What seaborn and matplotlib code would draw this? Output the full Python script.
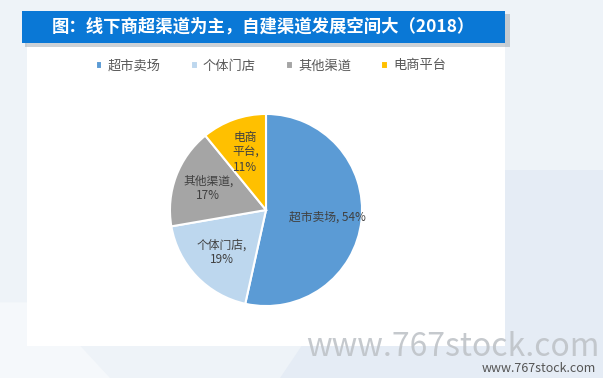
import matplotlib.pyplot as plt
import seaborn as sns
from matplotlib.patches import Rectangle, Polygon

# 数据
categories = ['超市卖场', '个体门店', '其他渠道', '电商平台']
shares = [54, 19, 17, 11]
slice_labels = ['超市卖场, 54%', '个体门店,\n19%', '其他渠道,\n17%', '电商\n平台,\n11%']
colors = ['#5B9BD5', '#BDD7EE', '#A5A5A5', '#FFC000']
title = '图：线下商超渠道为主，自建渠道发展空间大（2018）'

sns.set_theme(style='white')
plt.rcParams['font.family'] = ['Noto Sans CJK SC', 'DejaVu Sans']

fig = plt.figure(figsize=(6.03, 3.78), dpi=100)
fig.patch.set_facecolor('#EEF3F8')
W, H = 603, 378


def box(x0, y0, x1, y1, **kw):
    # 像素坐标 -> 图像比例
    fig.patches.append(Rectangle((x0 / W, 1 - y1 / H), (x1 - x0) / W, (y1 - y0) / H,
                                 transform=fig.transFigure, **kw))


# 背景斜纹
fig.patches.append(Polygon([(280 / W, 0), (1, 0), (1, 0.55), (420 / W, 0.55)],
                           closed=True, transform=fig.transFigure,
                           facecolor='#E5ECF5', edgecolor='none', zorder=0))
fig.patches.append(Polygon([(0, 0), (110 / W, 0), (40 / W, 0.2), (0, 0.2)],
                           closed=True, transform=fig.transFigure,
                           facecolor='#F5F8FB', edgecolor='none', zorder=0))

# 白色面板 + 标题栏
box(27, 43, 505, 346, facecolor='white', edgecolor='none', zorder=1)
box(25, 14, 510, 47, facecolor='#9AA4AE', edgecolor='none', alpha=0.5, zorder=1)
box(22, 11, 505, 43, facecolor='#0A78D6', edgecolor='none', zorder=2)
fig.text(263 / W, 1 - 27 / H, title, color='white', fontsize=12.5, fontweight='bold',
         ha='center', va='center', zorder=3)

# 饼图
ax = fig.add_axes([(266 - 97) / W, 1 - (210 + 97) / H, 194 / W, 194 / H])
wedges, texts = ax.pie(shares, colors=colors, startangle=90, counterclock=False,
                       labels=slice_labels, labeldistance=0.64,
                       wedgeprops=dict(edgecolor='white', linewidth=1.5),
                       textprops=dict(fontsize=8.5, color='#404040', ha='center',
                                      va='center', linespacing=1.2))
ax.set_xlim(-1.01, 1.01)
ax.set_ylim(-1.01, 1.01)
ax.set_aspect('equal')
ax.set_zorder(3)

leg = fig.legend(wedges, categories, loc='center', bbox_to_anchor=(271 / W, 1 - 66 / H),
                 ncol=4, frameon=False, fontsize=9.5, handlelength=0.5, handleheight=0.5,
                 handletextpad=0.4, columnspacing=2.3)
for t in leg.get_texts():
    t.set_color('#595959')

# 水印
fig.text(600 / W, 1 - 347 / H, 'www.767stock.com', color='#BFC3C8', fontsize=23,
         ha='right', va='center', alpha=0.9, zorder=4)
fig.text(596 / W, 1 - 368 / H, 'www.767stock.com', color='#555555', fontsize=9,
         ha='right', va='center', zorder=5)

fig.savefig('out.png', dpi=100, facecolor=fig.get_facecolor())
